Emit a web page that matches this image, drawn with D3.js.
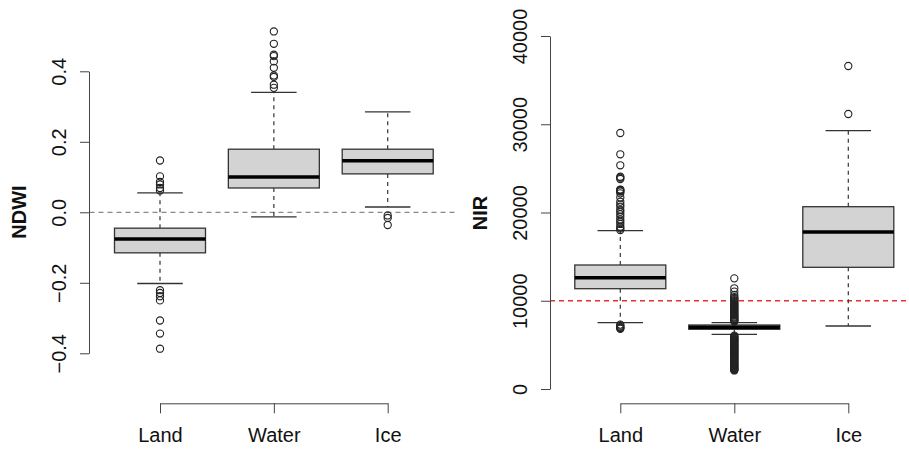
<!DOCTYPE html>
<html>
<head>
<meta charset="utf-8">
<script src="https://cdn.jsdelivr.net/npm/d3@7"></script>
<style>
    body { margin: 0; background: #fff; }
    svg { display: block; font-family: "Liberation Sans", Arial, sans-serif; }
</style>
</head>
<body>
<svg width="909" height="449"></svg>
<script>
const categories = ["Land", "Water", "Ice"]

// NDWI panel
const ndwiTicks = [-0.4, -0.2, 0.0, 0.2, 0.4]
const ndwiWhiskerLow = [-0.202, -0.013, 0.015]
const ndwiQ1 = [-0.115, 0.069, 0.109]
const ndwiMedian = [-0.076, 0.100, 0.146]
const ndwiQ3 = [-0.045, 0.179, 0.179]
const ndwiWhiskerHigh = [0.055, 0.340, 0.285]
const ndwiOutliers = [
    [0.147, 0.102, 0.086, 0.079, 0.069, 0.062, -0.221, -0.229, -0.238, -0.250, -0.307, -0.344, -0.387],
    [0.513, 0.478, 0.447, 0.443, 0.428, 0.410, 0.388, 0.384, 0.362, 0.353],
    [-0.009, -0.016, -0.036]
]

// NIR panel
const nirTicks = [0, 10000, 20000, 30000, 40000]
const nirWhiskerLow = [7513, 6198, 7139]
const nirQ1 = [11365, 6765, 13790]
const nirMedian = [12612, 6990, 17790]
const nirQ3 = [14051, 7252, 20657]
const nirWhiskerHigh = [17940, 7513, 29270]
const nirOutliers = [
    [29008, 26596, 25348, 24050, 23943, 23796, 22600, 22550, 22450, 22360, 22170, 21700, 21224, 20900, 20657,
     20300, 20090, 19800, 19524, 19200, 18957, 18700, 18390, 18200, 18017, 7300, 7180, 7050, 6950, 6900, 6820],
    [12540, 11410, 11030, 10650, 10420, 10300, 10180, 10080, 9960, 9850, 9740, 9620, 9510, 9400, 9290, 9180,
     9070, 8960, 8850, 8740, 8630, 8520, 8420, 8310, 8200, 8100, 8000, 7900, 7810, 7720, 7640,
     6050, 5960, 5880, 5790, 5700, 5610, 5530, 5440, 5350, 5260, 5170, 5080, 5000, 4910, 4830, 4740, 4650,
     4560, 4480, 4390, 4300, 4210, 4120, 4030, 3950, 3860, 3780, 3690, 3600, 3510, 3420, 3330, 3250, 3160,
     3080, 2990, 2900, 2810, 2720, 2630, 2550, 2460, 2380, 2300, 2230, 2160, 2100],
    [36600, 31160]
]

const boxWidth = 91

function drawPanel(svg, p) {
    const x = d3.scalePoint()
        .domain(categories)
        .range(p.xRange)

    const y = d3.scaleLinear()
        .domain([p.ticks[0], p.ticks[p.ticks.length - 1]])
        .range(p.yRange)

    const g = svg.append("g")

    // reference line
    g.append("line")
        .attr("x1", p.refX[0])
        .attr("x2", p.refX[1])
        .attr("y1", y(p.ref))
        .attr("y2", y(p.ref))
        .attr("stroke", p.refColor)
        .attr("stroke-width", 1.3)
        .attr("stroke-dasharray", "5,4")

    const boxes = g.selectAll("g.box")
        .data(categories.map((c, i) => ({
            name: c,
            lo: p.lo[i], q1: p.q1[i], med: p.med[i], q3: p.q3[i], hi: p.hi[i],
            out: p.out[i]
        })))
        .join("g")
        .attr("class", "box")
        .attr("transform", d => `translate(${x(d.name)},0)`)

    // whiskers
    boxes.append("line")
        .attr("y1", d => y(d.q3)).attr("y2", d => y(d.hi))
        .attr("stroke", "#333").attr("stroke-width", 1.2).attr("stroke-dasharray", "4,4")
    boxes.append("line")
        .attr("y1", d => y(d.q1)).attr("y2", d => y(d.lo))
        .attr("stroke", "#333").attr("stroke-width", 1.2).attr("stroke-dasharray", "4,4")

    // staples
    boxes.selectAll("line.staple")
        .data(d => [d.lo, d.hi])
        .join("line")
        .attr("class", "staple")
        .attr("x1", -boxWidth / 4).attr("x2", boxWidth / 4)
        .attr("y1", v => y(v)).attr("y2", v => y(v))
        .attr("stroke", "#333").attr("stroke-width", 1.3)

    boxes.append("rect")
        .attr("x", -boxWidth / 2)
        .attr("width", boxWidth)
        .attr("y", d => y(d.q3))
        .attr("height", d => y(d.q1) - y(d.q3))
        .attr("fill", "#d3d3d3")
        .attr("stroke", "#333")
        .attr("stroke-width", 1.3)

    boxes.append("line")
        .attr("x1", -boxWidth / 2).attr("x2", boxWidth / 2)
        .attr("y1", d => y(d.med)).attr("y2", d => y(d.med))
        .attr("stroke", "#000").attr("stroke-width", 3.5)

    boxes.selectAll("circle")
        .data(d => d.out)
        .join("circle")
        .attr("cy", v => y(v))
        .attr("r", 3.6)
        .attr("fill", "none")
        .attr("stroke", "#222")
        .attr("stroke-width", 1.1)

    // axes
    const yAxis = g.append("g")
        .attr("transform", `translate(${p.axisX},0)`)
        .call(d3.axisLeft(y).tickValues(p.ticks).tickSize(9).tickSizeOuter(0).tickFormat(p.fmt))
    yAxis.select(".domain").attr("stroke", "#444")
    yAxis.selectAll(".tick line").attr("stroke", "#444")
    yAxis.selectAll(".tick text")
        .attr("transform", "rotate(-90)")
        .attr("x", 0)
        .attr("y", -23)
        .attr("dy", 0)
        .attr("text-anchor", "middle")
        .attr("font-size", 20)
        .attr("font-family", "Liberation Sans, Arial, sans-serif")
        .attr("fill", "#111")

    const xAxis = g.append("g")
        .attr("transform", "translate(0,403.3)")
        .call(d3.axisBottom(x).tickSize(10).tickSizeOuter(0))
    xAxis.select(".domain").attr("stroke", "#444")
    xAxis.selectAll(".tick line").attr("stroke", "#444")
    xAxis.selectAll(".tick text")
        .attr("y", 38.7)
        .attr("dy", 0)
        .attr("font-size", 20)
        .attr("font-family", "Liberation Sans, Arial, sans-serif")
        .attr("fill", "#111")

    g.append("text")
        .attr("transform", `translate(${p.labelX},${p.labelY}) rotate(-90)`)
        .attr("text-anchor", "middle")
        .attr("font-size", 20)
        .attr("font-weight", "bold")
        .attr("fill", "#111")
        .text(p.label)
}

const svg = d3.select("svg")

drawPanel(svg, {
    label: "NDWI", labelX: 26, labelY: 212,
    ticks: ndwiTicks, fmt: d3.format(".1f"),
    xRange: [160, 387.7], yRange: [353.3, 71.3], axisX: 89,
    lo: ndwiWhiskerLow, q1: ndwiQ1, med: ndwiMedian, q3: ndwiQ3, hi: ndwiWhiskerHigh, out: ndwiOutliers,
    ref: 0, refX: [89.5, 458], refColor: "#888"
})

drawPanel(svg, {
    label: "NIR", labelX: 487, labelY: 213,
    ticks: nirTicks, fmt: d3.format("d"),
    xRange: [620.3, 848.3], yRange: [389, 36], axisX: 550,
    lo: nirWhiskerLow, q1: nirQ1, med: nirMedian, q3: nirQ3, hi: nirWhiskerHigh, out: nirOutliers,
    ref: 10000, refX: [550, 909], refColor: "#e8302a"
})
</script>
</body>
</html>
